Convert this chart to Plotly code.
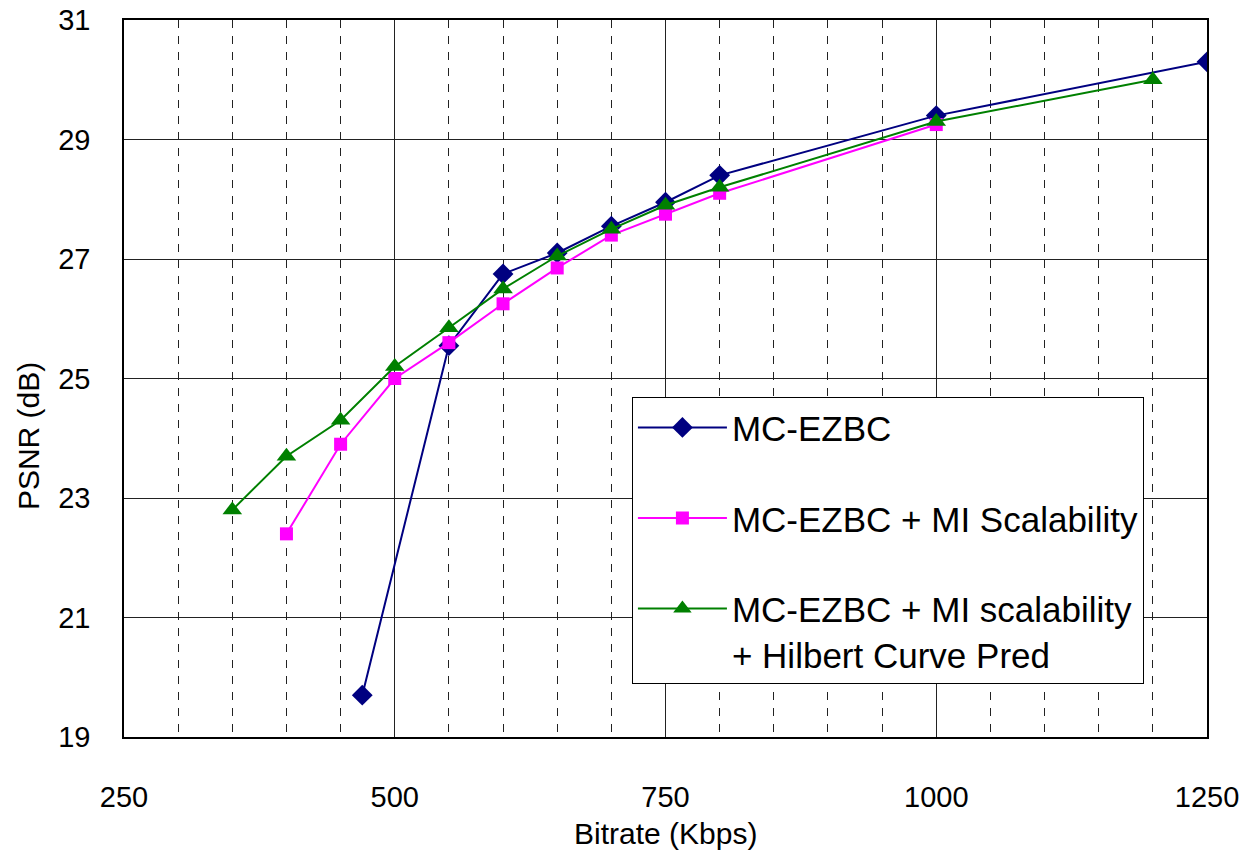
import plotly.graph_objects as go

# Data
mc_x = [470, 550, 600, 650, 700, 750, 800, 1000, 1250]
mc_y = [19.7, 25.55, 26.75, 27.1, 27.55, 27.95, 28.4, 29.4, 30.3]

mi_x = [400, 450, 500, 550, 600, 650, 700, 750, 800, 1000]
mi_y = [22.4, 23.9, 25.0, 25.6, 26.25, 26.85, 27.4, 27.75, 28.1, 29.25]

hc_x = [350, 400, 450, 500, 550, 600, 650, 700, 750, 800, 1000, 1200]
hc_y = [22.8, 23.7, 24.3, 25.2, 25.85, 26.5, 27.05, 27.5, 27.9, 28.2, 29.3, 30.0]

names = ["MC-EZBC", "MC-EZBC + MI Scalability",
         "MC-EZBC + MI scalability<br>+ Hilbert Curve Pred"]

x_ticks = [250, 500, 750, 1000, 1250]
y_ticks = [19, 21, 23, 25, 27, 29, 31]

x_title = "Bitrate (Kbps)"
y_title = "PSNR (dB)"

FONT = "Liberation Sans, Arial, sans-serif"

fig = go.Figure()
fig.add_trace(go.Scatter(x=mc_x, y=mc_y, name=names[0], mode="lines+markers",
                         legendgroup="a",
                         line=dict(color="#000080", width=2),
                         marker=dict(symbol="diamond", size=16, color="#000080")))
fig.add_trace(go.Scatter(x=mi_x, y=mi_y, name=names[1], mode="lines+markers",
                         legendgroup="b",
                         line=dict(color="#FF00FF", width=2),
                         marker=dict(symbol="square", size=13, color="#FF00FF")))
fig.add_trace(go.Scatter(x=hc_x, y=hc_y, name=names[2], mode="lines+markers",
                         legendgroup="c",
                         line=dict(color="#008000", width=2),
                         marker=dict(symbol="triangle-up", size=17, color="#008000")))

fig.update_layout(
    width=1242, height=860,
    margin=dict(l=124, r=35, t=20, b=123),
    paper_bgcolor="white", plot_bgcolor="white",
    font=dict(family=FONT, size=29, color="black"),
    showlegend=True,
    legend=dict(x=0.469, y=0.474, xanchor="left", yanchor="top",
                bgcolor="white", bordercolor="black", borderwidth=1,
                font=dict(family=FONT, size=35, color="black"),
                tracegroupgap=42, valign="top", itemwidth=89,
                traceorder="grouped"),
    annotations=[
        dict(text=x_title, xref="paper", yref="paper", x=0.5, y=-0.134,
             xanchor="center", yanchor="middle", showarrow=False,
             font=dict(family=FONT, size=30, color="black")),
        dict(text=y_title, xref="paper", yref="paper", x=-0.0875, y=0.42,
             xanchor="center", yanchor="middle", showarrow=False, textangle=-90,
             font=dict(family=FONT, size=30, color="black")),
    ],
)

fig.update_xaxes(
    range=[250, 1250], tickvals=x_ticks, automargin=False,
    ticklabeloverflow="allow",
    showgrid=True, gridcolor="#222", gridwidth=1,
    showline=True, linecolor="black", linewidth=1.5, mirror=True,
    ticks="", ticklabelstandoff=33,
    minor=dict(dtick=50, tick0=250, showgrid=True, gridcolor="#222",
               griddash="8px,8px", gridwidth=1),
    zeroline=False,
)
fig.update_yaxes(
    range=[19, 31], tickvals=y_ticks, automargin=False,
    ticklabeloverflow="allow",
    showgrid=True, gridcolor="#222", gridwidth=1,
    showline=True, linecolor="black", linewidth=1.5, mirror=True,
    ticks="", ticklabelstandoff=26,
    zeroline=False,
)

# remove the browser's default page margin so the figure fills the window
fig.write_html("out.html",
               config={"displayModeBar": False},
               post_script="document.body.style.margin='0';"
                           "document.body.style.overflow='hidden';")
